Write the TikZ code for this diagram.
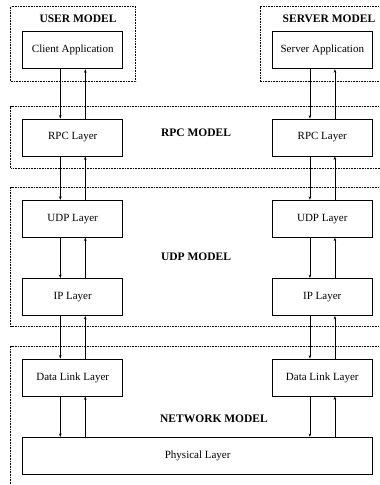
\documentclass[tikz,border=0pt]{standalone}
\usepackage{fontspec}
\setmainfont{Liberation Serif}
\usetikzlibrary{arrows.meta}
\begin{document}
\begin{tikzpicture}[x=1pt,y=-1pt,
 layer/.style={draw, line width=0.8pt, minimum width=100pt, minimum height=37pt, inner sep=0pt, font=\fontsize{11}{13}\selectfont},
 region/.style={draw, line width=0.5pt, dash pattern=on 0.8pt off 0.8pt},
 title/.style={font=\fontsize{11.5}{13}\selectfont\bfseries, inner sep=0pt},
 link/.style={line width=0.8pt, -{Stealth[length=3.5pt,width=2.6pt]}}]
\useasboundingbox (0,0) rectangle (380,485);
% model regions
\draw[region] (10.7,6.7) rectangle (135.7,81.7);
\draw[region] (382,6.7) -- (260,6.7) -- (260,81.7) -- (382,81.7);
\draw[region] (382,106.7) -- (10.7,106.7) -- (10.7,168.3) -- (382,168.3);
\draw[region] (382,187) -- (10.7,187) -- (10.7,326.7) -- (382,326.7);
\draw[region] (382,346) -- (10.7,346) -- (10.7,487);
% titles
\node[title] (tuser) at (78,19) {USER MODEL};
\node[title] (tserver) at (329,19) {SERVER MODEL};
\node[title] (trpc) at (196,133) {RPC MODEL};
\node[title] (tudp) at (196,256.7) {UDP MODEL};
\node[title] (tnet) at (214,418.3) {NETWORK MODEL};
% layers
\node[layer] (client) at (72.7,50.3) {Client Application};
\node[layer] (server) at (322.3,50.3) {Server Application};
\node[layer] (rpcL) at (72.7,137.5) {RPC Layer};
\node[layer] (rpcR) at (322.3,137.5) {RPC Layer};
\node[layer] (udpL) at (72.7,218.7) {UDP Layer};
\node[layer] (udpR) at (322.3,218.7) {UDP Layer};
\node[layer] (ipL) at (72.7,297) {IP Layer};
\node[layer] (ipR) at (322.3,297) {IP Layer};
\node[layer] (dlL) at (72.7,377.5) {Data Link Layer};
\node[layer] (dlR) at (322.3,377.5) {Data Link Layer};
\node[layer, minimum width=350pt] (phys) at (197.7,455.8) {Physical Layer};
% connectors
\foreach \a/\b in {client/rpcL, rpcL/udpL, udpL/ipL, ipL/dlL, server/rpcR, rpcR/udpR, udpR/ipR, ipR/dlR}{
  \draw[link] ([xshift=-12.4pt]\a.south) -- ([xshift=-12.4pt]\b.north);
  \draw[link] ([xshift=12.6pt]\b.north) -- ([xshift=12.6pt]\a.south);
}
\foreach \a in {dlL, dlR}{
  \draw[link] ([xshift=-12.4pt]\a.south) -- ([xshift=-12.4pt]\a.south |- phys.north);
  \draw[link] ([xshift=12.6pt]\a.south |- phys.north) -- ([xshift=12.6pt]\a.south);
}
\end{tikzpicture}
\end{document}
